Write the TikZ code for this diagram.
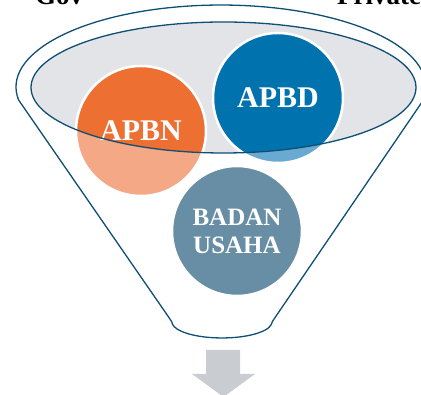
\documentclass[tikz,border=0pt]{standalone}
\usepackage{fontspec}
\setmainfont{Liberation Serif}
\definecolor{rim}{HTML}{0E4F74}
\definecolor{bowl}{HTML}{E3E4E8}
\definecolor{apbnc}{HTML}{EE6F32}
\definecolor{apbnl}{HTML}{F5A886}
\definecolor{apbdc}{HTML}{0073AE}
\definecolor{apbdl}{HTML}{69AAD2}
\definecolor{usahac}{HTML}{678EA4}
\definecolor{chute}{HTML}{C9CCD1}
\tikzset{
  rimline/.style={draw=rim, line width=1.3},
  disc/.style={circle, draw=white, line width=2.5, minimum size=130,
    inner sep=0, text=white, align=center},
  % saturated part of a disc that lies inside the bowl
  tint/.style={path picture={\fill[#1] (ec) ellipse[x radius=192.5, y radius=65.5];}},
  heading/.style={anchor=base west, inner sep=0,
    font=\bfseries\fontsize{27}{27}\selectfont},
}
\begin{document}
\begin{tikzpicture}[x=1pt,y=1pt]
\useasboundingbox (0,0) rectangle (421,395);
\coordinate (ec) at (223.5,307.5);

% funnel body, with softened corners at the spout
\path[rimline, fill=white] (18.6,295)
  arc[start angle=189.1, end angle=-9.1, x radius=205, y radius=82]
  -- (274.8,77.1) .. controls (272,73) .. (271.5,70.8)
  arc[start angle=-8, end angle=-172, x radius=50, y radius=16]
  .. controls (172,73) .. (169.2,77.1)
  -- cycle;

% bowl of the funnel
\fill[bowl] (ec) ellipse[x radius=192.5, y radius=65.5];

% sources
\node[disc, fill=apbnl, tint=apbnc, font=\bfseries\fontsize{30}{30}\selectfont]
  (apbn) at (141,264) {APBN};
\node[disc, fill=apbdl, tint=apbdc, font=\bfseries\fontsize{30}{30}\selectfont]
  (apbd) at (278,297) {APBD};
\node[disc, fill=usahac, font=\bfseries\fontsize{25}{28}\selectfont]
  (usaha) at (237,164) {BADAN\\USAHA};

% rim of the bowl
\draw[rimline] (ec) ellipse[x radius=192.5, y radius=65.5];

% outflow arrow
\fill[chute] (206,45) -- (240,45) -- (240,21) -- (255,21) -- (223.5,-2)
  -- (192,21) -- (206,21) -- cycle;

% headings
\node[heading] (gov) at (35,390) {Gov};
\node[heading] (private) at (337,390) {Private};
\end{tikzpicture}
\end{document}
